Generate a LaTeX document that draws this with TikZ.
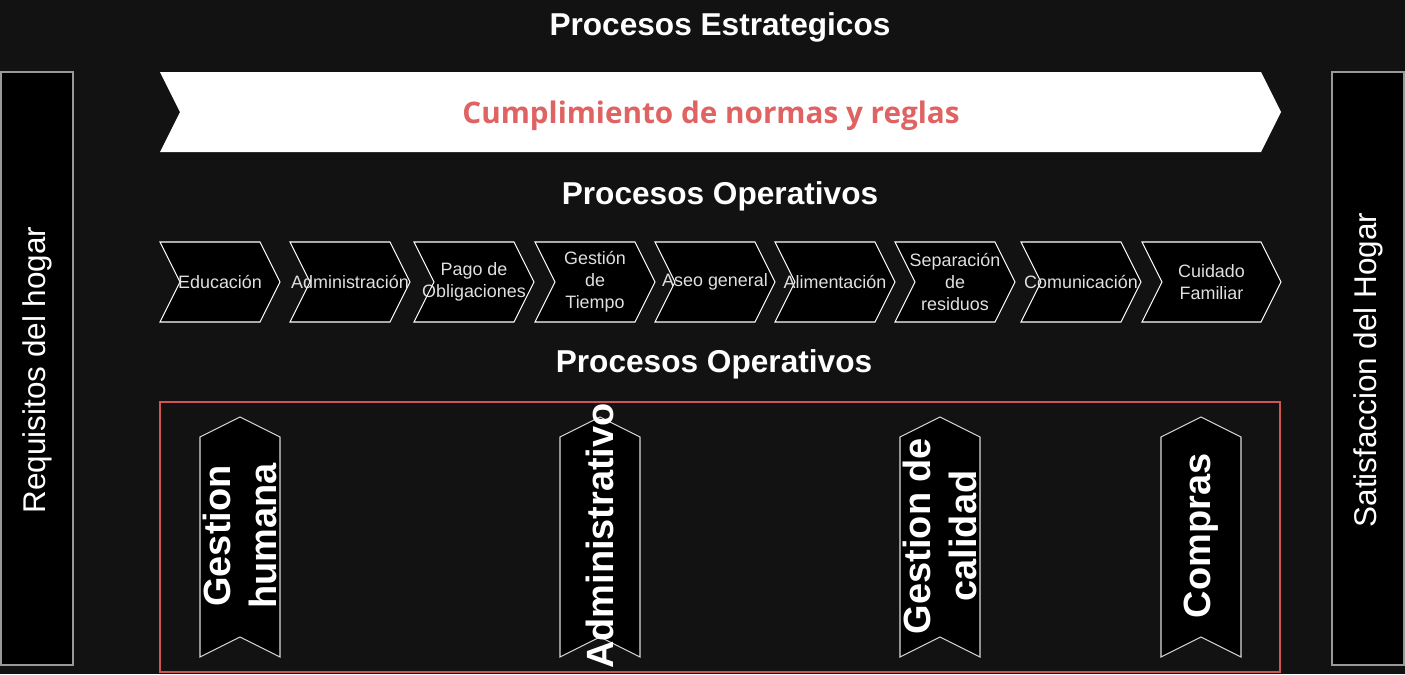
\documentclass[tikz,border=0pt]{standalone}
\usepackage{fontspec}
\setmainfont{Liberation Sans}
\newfontfamily\osans{Open Sans}
\definecolor{bgdark}{HTML}{121212}
\definecolor{softred}{HTML}{E06363}
\definecolor{boxred}{HTML}{D0544F}
\begin{document}
\begin{tikzpicture}[x=0.02cm, y=-0.02cm,
    title/.style={text=white, font=\fontsize{18}{21}\selectfont\bfseries},
    sidetxt/.style={text=white, rotate=90, font=\fontsize{17.9}{21}\selectfont},
    chev/.style={draw=white, fill=black, line width=0.6pt, line join=miter},
    chevtxt/.style={text=white!88!black, align=center, inner sep=0pt, font=\fontsize{10.2}{12.5}\selectfont},
    ribbon/.style={draw=white!85!black, fill=black, line width=0.6pt},
    ribtxt/.style={text=white, rotate=90, align=center, inner sep=0pt, font=\fontsize{21.6}{26}\selectfont\bfseries}]
    %background
    \fill[bgdark] (0,0) rectangle (1405,674);
    \useasboundingbox (0,0) rectangle (1405,674);

    %side bars
    \draw[fill=black, draw=white!60!black, line width=0.6pt] (1,72) rectangle (73,665);
    \draw[fill=black, draw=white!60!black, line width=0.6pt] (1332,72) rectangle (1404,665);
    \node[sidetxt] (req) at (37,370) {Requisitos del hogar};
    \node[sidetxt] (sat) at (1368,370) {Satisfaccion del Hogar};

    %strategic banner
    \node[title] (estr) at (720,27) {Procesos Estrategicos};
    \fill[white] (160,72) -- (1261,72) -- (1281,112) -- (1261,152) -- (160,152) -- (180,112) -- cycle;
    \node[text=softred, font=\fontsize{16.9}{20}\selectfont\osans\bfseries] (norm) at (711,116) {Cumplimiento de normas y reglas};

    %operative chain
    \node[title] (oper) at (720,196) {Procesos Operativos};
    \foreach \xa/\xb/\nm/\txt in {160/280/edu/{Educación}, 290/410/adm/{Administración},
        414/534/pago/{Pago de\\Obligaciones}, 535/655/tiempo/{Gestión\\de\\Tiempo},
        655/775/aseo/{Aseo general}, 775/895/alim/{Alimentación},
        895/1015/sep/{Separación\\de\\residuos}, 1021/1141/com/{Comunicación},
        1142/1281/cuid/{Cuidado\\Familiar}} {
        \draw[chev] (\xa,242) -- (\xb-20,242) -- (\xb,282) -- (\xb-20,322) -- (\xa,322) -- (\xa+20,282) -- cycle;
        \node[chevtxt] (\nm) at ({(\xa+\xb)/2},282) {\txt};
    }

    %support processes
    \node[title] (oper2) at (714,364) {Procesos Operativos};
    \draw[boxred, line width=1.1pt] (160,402) rectangle (1280,672);
    \foreach \xa/\nm/\txt in {200/hum/{Gestion\\humana}, 560/admv/{Administrativo},
        900/cal/{Gestion de\\calidad}, 1161/comp/{Compras}} {
        \draw[ribbon] (\xa,437) -- (\xa+40,417) -- (\xa+80,437) -- (\xa+80,657) -- (\xa+40,637) -- (\xa,657) -- cycle;
        \node[ribtxt] (\nm) at (\xa+40,536) {\txt};
    }
\end{tikzpicture}
\end{document}
